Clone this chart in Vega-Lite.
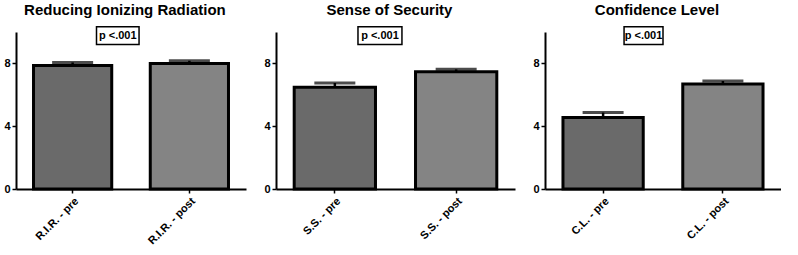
{
  "$schema": "https://vega.github.io/schema/vega-lite/v6.json",
  "background": "white",
  "padding": {"left": 3, "top": 2, "right": 0, "bottom": 0},
  "spacing": 17,
  "datasets": {
    "bars": [
      {"panel": "RIR", "cat": "R.I.R. - pre", "phase": "pre", "mean": 7.87, "upper": 8.06},
      {"panel": "RIR", "cat": "R.I.R. - post", "phase": "post", "mean": 8.0, "upper": 8.17},
      {"panel": "SS", "cat": "S.S. - pre", "phase": "pre", "mean": 6.48, "upper": 6.75},
      {"panel": "SS", "cat": "S.S. - post", "phase": "post", "mean": 7.47, "upper": 7.62},
      {"panel": "CL", "cat": "C.L. - pre", "phase": "pre", "mean": 4.55, "upper": 4.87},
      {"panel": "CL", "cat": "C.L. - post", "phase": "post", "mean": 6.68, "upper": 6.88}
    ],
    "notes": [
      {"panel": "RIR", "x0": 0.35, "x1": 0.535, "y0": 9.21, "y1": 10.34, "xm": 0.4425, "ym": 9.77, "label": "p <.001"},
      {"panel": "SS", "x0": 0.343, "x1": 0.527, "y0": 9.21, "y1": 10.34, "xm": 0.435, "ym": 9.77, "label": "p <.001"},
      {"panel": "CL", "x0": 0.335, "x1": 0.5, "y0": 9.21, "y1": 10.34, "xm": 0.4175, "ym": 9.77, "label": "p <.001"}
    ]
  },
  "config": {
    "font": "Liberation Sans",
    "view": {"stroke": null},
    "title": {"fontSize": 15, "fontWeight": "bold", "color": "black", "frame": "bounds", "anchor": "middle", "offset": 8},
    "axis": {
      "domain": true, "domainColor": "black", "domainWidth": 2, "tickColor": "black", "tickWidth": 1.5, "tickSize": 4,
      "labelFont": "Liberation Sans", "labelFontWeight": "bold", "labelFontSize": 11, "labelColor": "black",
      "grid": false, "title": null, "labelPadding": 2
    },
    "axisY": {"tickCount": 5, "labelOverlap": false}
  },
  "hconcat": [
    {
      "width": 230, "height": 157,
      "title": "Reducing Ionizing Radiation",
      "layer": [
        {
          "data": {"name": "bars"},
          "transform": [{"filter": "datum.panel == 'RIR'"}],
          "encoding": {
            "x": {"field": "cat", "type": "nominal", "sort": ["R.I.R. - pre", "R.I.R. - post"], "scale": {"paddingInner": 0.33, "paddingOuter": 0.15}, "axis": {"labelAngle": -45}}
          },
          "layer": [
            {"mark": {"type": "bar", "stroke": "black", "strokeWidth": 3},
             "encoding": {
               "y": {"field": "mean", "type": "quantitative", "scale": {"domain": [0, 10], "nice": false}, "axis": {"values": [0, 2, 4, 6, 8, 10], "tickCount": 5, "labelOverlap": false}},
               "fill": {"field": "phase", "type": "nominal", "scale": {"domain": ["pre", "post"], "range": ["#6a6a6a", "#848484"]}, "legend": null}
             }},
            {"mark": {"type": "rule", "color": "black", "strokeWidth": 2.5}, "encoding": {"y": {"field": "mean", "type": "quantitative"}, "y2": {"field": "upper"}}},
            {"mark": {"type": "tick", "color": "black", "thickness": 3, "size": 41}, "encoding": {"y": {"field": "upper", "type": "quantitative"}}}
          ]
        },
        {
          "data": {"name": "notes"},
          "transform": [{"filter": "datum.panel == 'RIR'"}],
          "layer": [
            {"mark": {"type": "rect", "fill": "white", "stroke": "black", "strokeWidth": 1.5},
             "encoding": {"x": {"field": "x0", "type": "quantitative", "scale": {"domain": [0, 1]}, "axis": null}, "x2": {"field": "x1"}, "y": {"field": "y0", "type": "quantitative", "scale": {"domain": [0, 10], "nice": false}, "axis": null}, "y2": {"field": "y1"}}},
            {"mark": {"type": "text", "fontWeight": "bold", "fontSize": 11, "color": "black"},
             "encoding": {"x": {"field": "xm", "type": "quantitative", "scale": {"domain": [0, 1]}, "axis": null}, "y": {"field": "ym", "type": "quantitative", "scale": {"domain": [0, 10], "nice": false}, "axis": null}, "text": {"field": "label"}}}
          ]
        }
      ],
      "resolve": {"scale": {"x": "independent", "y": "independent"}, "axis": {"x": "independent", "y": "independent"}}
    },
    {
      "width": 239, "height": 157,
      "title": "Sense of Security",
      "layer": [
        {
          "data": {"name": "bars"},
          "transform": [{"filter": "datum.panel == 'SS'"}],
          "encoding": {
            "x": {"field": "cat", "type": "nominal", "sort": ["S.S. - pre", "S.S. - post"], "scale": {"paddingInner": 0.33, "paddingOuter": 0.15}, "axis": {"labelAngle": -45}}
          },
          "layer": [
            {"mark": {"type": "bar", "stroke": "black", "strokeWidth": 3},
             "encoding": {
               "y": {"field": "mean", "type": "quantitative", "scale": {"domain": [0, 10], "nice": false}, "axis": {"values": [0, 2, 4, 6, 8, 10], "tickCount": 5, "labelOverlap": false}},
               "fill": {"field": "phase", "type": "nominal", "scale": {"domain": ["pre", "post"], "range": ["#6a6a6a", "#848484"]}, "legend": null}
             }},
            {"mark": {"type": "rule", "color": "black", "strokeWidth": 2.5}, "encoding": {"y": {"field": "mean", "type": "quantitative"}, "y2": {"field": "upper"}}},
            {"mark": {"type": "tick", "color": "black", "thickness": 3, "size": 41}, "encoding": {"y": {"field": "upper", "type": "quantitative"}}}
          ]
        },
        {
          "data": {"name": "notes"},
          "transform": [{"filter": "datum.panel == 'SS'"}],
          "layer": [
            {"mark": {"type": "rect", "fill": "white", "stroke": "black", "strokeWidth": 1.5},
             "encoding": {"x": {"field": "x0", "type": "quantitative", "scale": {"domain": [0, 1]}, "axis": null}, "x2": {"field": "x1"}, "y": {"field": "y0", "type": "quantitative", "scale": {"domain": [0, 10], "nice": false}, "axis": null}, "y2": {"field": "y1"}}},
            {"mark": {"type": "text", "fontWeight": "bold", "fontSize": 11, "color": "black"},
             "encoding": {"x": {"field": "xm", "type": "quantitative", "scale": {"domain": [0, 1]}, "axis": null}, "y": {"field": "ym", "type": "quantitative", "scale": {"domain": [0, 10], "nice": false}, "axis": null}, "text": {"field": "label"}}}
          ]
        }
      ],
      "resolve": {"scale": {"x": "independent", "y": "independent"}, "axis": {"x": "independent", "y": "independent"}}
    },
    {
      "width": 236, "height": 157,
      "title": "Confidence Level",
      "layer": [
        {
          "data": {"name": "bars"},
          "transform": [{"filter": "datum.panel == 'CL'"}],
          "encoding": {
            "x": {"field": "cat", "type": "nominal", "sort": ["C.L. - pre", "C.L. - post"], "scale": {"paddingInner": 0.33, "paddingOuter": 0.15}, "axis": {"labelAngle": -45}}
          },
          "layer": [
            {"mark": {"type": "bar", "stroke": "black", "strokeWidth": 3},
             "encoding": {
               "y": {"field": "mean", "type": "quantitative", "scale": {"domain": [0, 10], "nice": false}, "axis": {"values": [0, 2, 4, 6, 8, 10], "tickCount": 5, "labelOverlap": false}},
               "fill": {"field": "phase", "type": "nominal", "scale": {"domain": ["pre", "post"], "range": ["#6a6a6a", "#848484"]}, "legend": null}
             }},
            {"mark": {"type": "rule", "color": "black", "strokeWidth": 2.5}, "encoding": {"y": {"field": "mean", "type": "quantitative"}, "y2": {"field": "upper"}}},
            {"mark": {"type": "tick", "color": "black", "thickness": 3, "size": 41}, "encoding": {"y": {"field": "upper", "type": "quantitative"}}}
          ]
        },
        {
          "data": {"name": "notes"},
          "transform": [{"filter": "datum.panel == 'CL'"}],
          "layer": [
            {"mark": {"type": "rect", "fill": "white", "stroke": "black", "strokeWidth": 1.5},
             "encoding": {"x": {"field": "x0", "type": "quantitative", "scale": {"domain": [0, 1]}, "axis": null}, "x2": {"field": "x1"}, "y": {"field": "y0", "type": "quantitative", "scale": {"domain": [0, 10], "nice": false}, "axis": null}, "y2": {"field": "y1"}}},
            {"mark": {"type": "text", "fontWeight": "bold", "fontSize": 11, "color": "black"},
             "encoding": {"x": {"field": "xm", "type": "quantitative", "scale": {"domain": [0, 1]}, "axis": null}, "y": {"field": "ym", "type": "quantitative", "scale": {"domain": [0, 10], "nice": false}, "axis": null}, "text": {"field": "label"}}}
          ]
        }
      ],
      "resolve": {"scale": {"x": "independent", "y": "independent"}, "axis": {"x": "independent", "y": "independent"}}
    }
  ]
}
